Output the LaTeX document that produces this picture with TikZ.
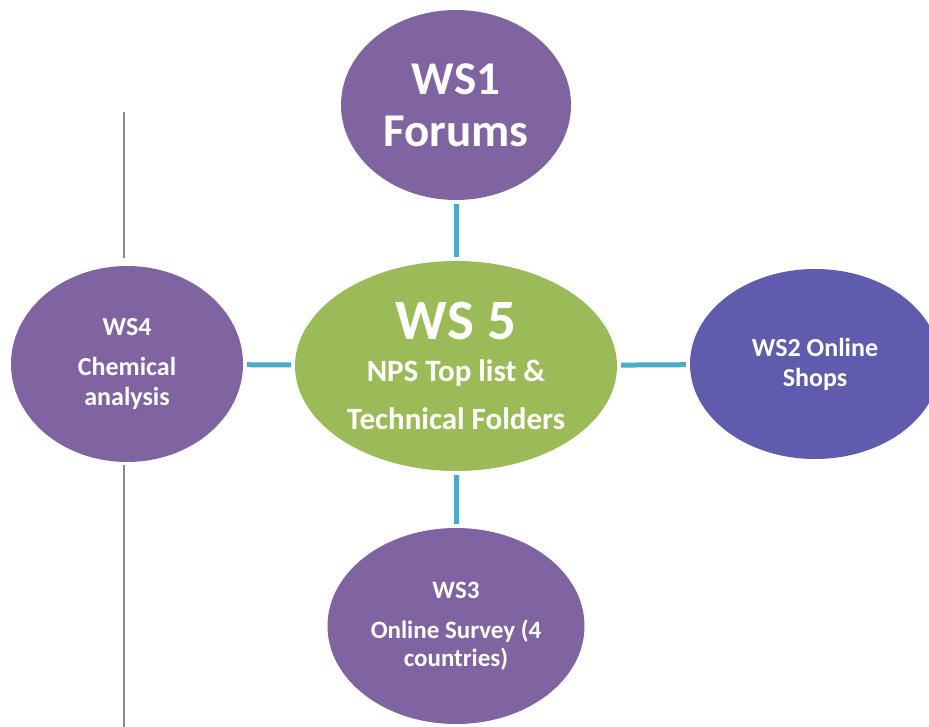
\documentclass[tikz,border=0pt]{standalone}
\usepackage{fontspec}
\setmainfont{Carlito}
\usetikzlibrary{shapes.geometric}
\definecolor{wspurple}{HTML}{8064A2}
\definecolor{wsgreen}{HTML}{9BBB59}
\definecolor{wsblue}{HTML}{5F5BAD}
\definecolor{wscyan}{HTML}{4BACC6}
\definecolor{wsgray}{HTML}{8C8C8C}

\begin{document}
\begin{tikzpicture}[x=1pt, y=-1pt,
   ws/.style={ellipse, fill=wspurple, text=white, align=center, inner sep=0pt,
              font=\bfseries\fontsize{26}{30}\selectfont},
   link/.style={draw=wscyan, line width=5pt, shorten <=4pt, shorten >=4pt},
   rule/.style={draw=wsgray, line width=1.8pt}]

\clip (0,0) rectangle (929,727);

% side rule
\draw[rule] (124,112) -- (124,258);
\draw[rule] (124,465) -- (124,727);

\node[ws, fill=wsgreen, minimum width=322pt, minimum height=210pt,
      font=\bfseries\fontsize{31}{48}\selectfont] (ws5) at (456,366)
    {{\fontsize{57}{57}\selectfont WS 5}\\[-6pt]NPS Top list \&\\Technical Folders};
\node[ws, minimum width=230pt, minimum height=190pt,
      font=\bfseries\fontsize{47}{52}\selectfont] (ws1) at (456,105) {WS1\\Forums};
\node[ws, fill=wsblue, minimum width=250pt, minimum height=190pt] (ws2) at (815,364)
    {WS2 Online\\Shops};
\node[ws, minimum width=257pt, minimum height=196pt,
      font=\bfseries\fontsize{25}{28}\selectfont] (ws3) at (456,626)
    {WS3\\[12pt]Online Survey (4\\countries)};
\node[ws, minimum width=232pt, minimum height=196pt] (ws4) at (127,364)
    {WS4\\[10pt]Chemical\\analysis};

\draw[link] (ws1) -- (ws5);
\draw[link] (ws5) -- (ws3);
\draw[link] (ws4) -- (ws5);
\draw[link] (ws5) -- (ws2);

\end{tikzpicture}
\end{document}
